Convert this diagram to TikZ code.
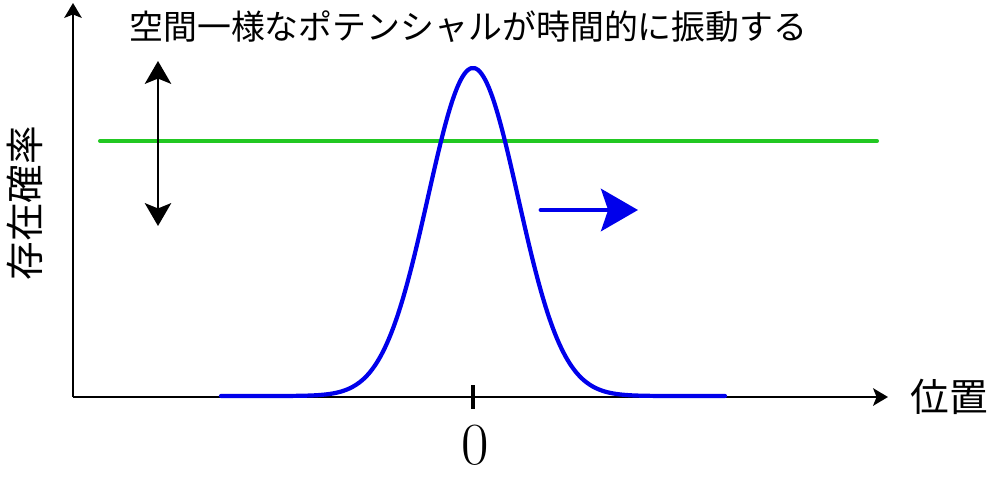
\documentclass[tikz,border=0pt]{standalone}
\usepackage{fontspec}
\newfontfamily\jpfont{Noto Sans CJK JP}
\usetikzlibrary{arrows.meta,positioning}
\definecolor{wave}{RGB}{0,0,235}
\definecolor{pot}{RGB}{34,200,34}

\begin{document}
\begin{tikzpicture}[x=0.02cm,y=-0.02cm,
axis/.style={line width=1.1pt,-{Stealth[length=8.5pt,width=10pt,inset=2pt]}},
jp/.style={font=\jpfont\fontsize{22}{26}\selectfont,inner sep=0pt}]
\useasboundingbox (0,0) rectangle (992,480);
\coordinate (O) at (73,397);
\coordinate (xend) at (888,397);
\coordinate (yend) at (73,3);
\draw[axis] (O) -- (xend);
\draw[axis] (O) -- (yend);
\draw[line width=1.8pt] (473,385) coordinate (t1) -- (473,409) coordinate (t2);
\node[font=\fontsize{34}{40}\selectfont,inner sep=0pt] (zero) at (475,445) {0};
\node[jp,anchor=west] (xlabel) at (910,397) {位置};
\node[jp,rotate=90] (ylabel) at (25,203) {存在確率};
\node[jp,font=\jpfont\fontsize{19.3}{23}\selectfont,anchor=west] (title) at (129,27) {空間一様なポテンシャルが時間的に振動する};
\draw[pot,line width=2.3pt,line cap=round] (100,141) coordinate (g1) -- (877,141) coordinate (g2);
\draw[line width=1.4pt,{Stealth[length=13pt,width=15pt,inset=3pt]}-{Stealth[length=13pt,width=15pt,inset=3pt]}] (158,61) coordinate (a1) -- (158,226) coordinate (a2);
\draw[wave,line width=2.4pt,line cap=round,domain=-5.6:5.6,samples=150,smooth] plot ({473+45*\x},{396-328*exp(-\x*\x/2)});
\draw[wave,line width=2.8pt,line cap=round,-{Stealth[length=21pt,width=24pt,inset=4pt]}] (541,210) coordinate (b1) -- (638,210) coordinate (b2);
\end{tikzpicture}
\end{document}
